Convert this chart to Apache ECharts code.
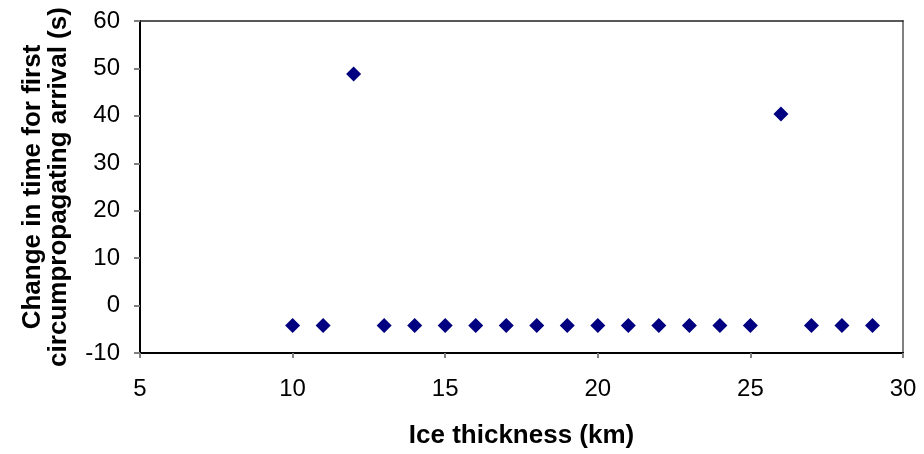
<!DOCTYPE html>
<html>
<head>
<meta charset="utf-8">
<script src="https://cdn.jsdelivr.net/npm/echarts@6/dist/echarts.min.js"></script>
<style>
html, body { margin: 0; padding: 0; background: #fff; }
#chart { width: 924px; height: 454px; }
</style>
</head>
<body>
<div id="chart"></div>
<script>
'use strict';
// ice thickness (km) and the shift of the first circumpropagating arrival (s)
var thickness = [10, 11, 12, 13, 14, 15, 16, 17, 18, 19, 20, 21, 22, 23, 24, 25, 26, 27, 28, 29];
var change = [-4.2, -4.2, 48.8, -4.2, -4.2, -4.2, -4.2, -4.2, -4.2, -4.2,
	-4.2, -4.2, -4.2, -4.2, -4.2, -4.2, 40.4, -4.2, -4.2, -4.2];
var xTicks = [5, 10, 15, 20, 25, 30];
var yTicks = [-10, 0, 10, 20, 30, 40, 50, 60];

var font = '"Liberation Sans", Arial, sans-serif';
var points = thickness.map(function (t, i) { return [t, change[i]]; });

var myChart = echarts.init(document.getElementById('chart'));
var option = {
	animation: false,
	grid: { left: 140, right: 21, top: 21, bottom: 100, containLabel: false },
	xAxis: [{
		type: 'value',
		min: xTicks[0],
		max: xTicks[xTicks.length - 1],
		interval: 5,
		name: 'Ice thickness (km)',
		nameLocation: 'middle',
		nameGap: 70,
		nameTextStyle: { fontFamily: font, fontSize: 26, fontWeight: 'bold', color: '#000' },
		axisLine: { onZero: false, lineStyle: { color: '#000', width: 2 } },
		axisTick: { inside: false, length: 5, lineStyle: { color: '#808080', width: 2 } },
		axisLabel: { margin: 24, fontFamily: font, fontSize: 24, color: '#000' },
		splitLine: { show: false }
	}, {
		type: 'value',
		position: 'top',
		min: xTicks[0],
		max: xTicks[xTicks.length - 1],
		axisLine: { show: true, onZero: false, lineStyle: { color: '#222', width: 1.5 } },
		axisTick: { show: false },
		axisLabel: { show: false },
		splitLine: { show: false }
	}],
	yAxis: [{
		type: 'value',
		min: yTicks[0],
		max: yTicks[yTicks.length - 1],
		interval: 10,
		name: 'Change in time for first\ncircumpropagating arrival (s)',
		nameLocation: 'middle',
		nameRotate: 90,
		nameGap: 68,
		nameTextStyle: { fontFamily: font, fontSize: 26, fontWeight: 'bold', color: '#000', lineHeight: 26 },
		axisLine: { show: true, onZero: false, lineStyle: { color: '#000', width: 2 } },
		axisTick: { show: true, inside: false, length: 6, lineStyle: { color: '#808080', width: 2 } },
		axisLabel: { margin: 20, fontFamily: font, fontSize: 24, color: '#000' },
		splitLine: { show: false }
	}, {
		type: 'value',
		position: 'right',
		min: yTicks[0],
		max: yTicks[yTicks.length - 1],
		axisLine: { show: true, onZero: false, lineStyle: { color: '#808080', width: 2 } },
		axisTick: { show: false },
		axisLabel: { show: false },
		splitLine: { show: false }
	}],
	series: [{
		type: 'scatter',
		xAxisIndex: 0,
		yAxisIndex: 0,
		symbol: 'diamond',
		symbolSize: [15, 15],
		itemStyle: { color: '#000080', opacity: 1 },
		data: points
	}]
};
myChart.setOption(option);
</script>
</body>
</html>
